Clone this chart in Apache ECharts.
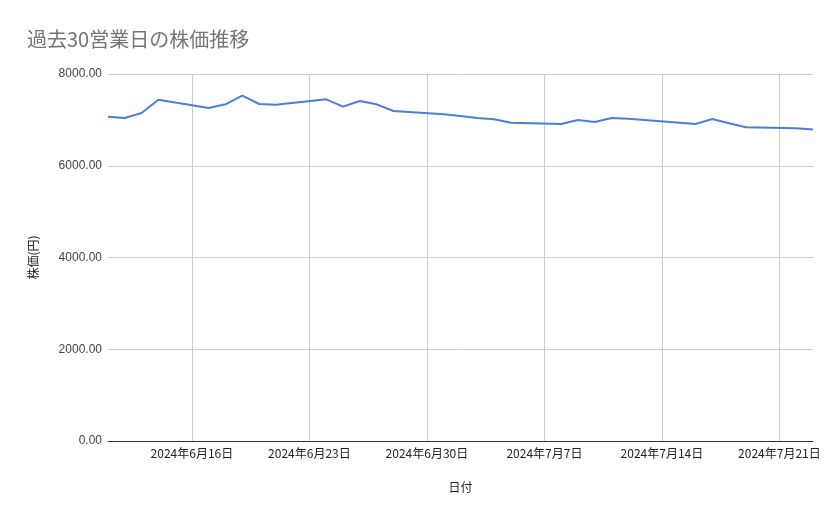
<!DOCTYPE html>
<html><head><meta charset="utf-8">
<script src="https://cdn.jsdelivr.net/npm/echarts@6/dist/echarts.min.js"></script>
<style>html,body{margin:0;padding:0;background:#fff}#c{width:839px;height:519px}</style>
</head><body><div id="c"></div>
<script>
const dates = ['2024-06-11','2024-06-12','2024-06-13','2024-06-14','2024-06-17','2024-06-18','2024-06-19','2024-06-20','2024-06-21',
  '2024-06-24','2024-06-25','2024-06-26','2024-06-27','2024-06-28','2024-07-01','2024-07-02','2024-07-03','2024-07-04','2024-07-05',
  '2024-07-08','2024-07-09','2024-07-10','2024-07-11','2024-07-12','2024-07-16','2024-07-17','2024-07-18','2024-07-19','2024-07-22','2024-07-23'];
const prices = [7069,7041,7150,7440,7259,7339,7527,7346,7330,7448,7288,7411,7339,7193,7121,7084,7041,7012,6939,
  6910,6997,6954,7041,7022,6910,7019,6925,6838,6816,6788];
const tickDates = ['2024-06-16','2024-06-23','2024-06-30','2024-07-07','2024-07-14','2024-07-21'];
const xRange = ['2024-06-11','2024-07-23'];
const yTicks = [0,2000,4000,6000,8000];

function ts(s){const p=s.split('-').map(Number);return new Date(p[0],p[1]-1,p[2]).getTime();}
const chart = echarts.init(document.getElementById('c'));
chart.setOption({
  animation:false,
  title:{text:'過去30営業日の株価推移',left:22,top:24,textStyle:{fontFamily:'Noto Sans CJK JP',fontSize:20,fontWeight:'normal',color:'#757575'}},
  grid:{left:108,right:26,top:74,bottom:78,containLabel:false},
  xAxis:{type:'value',min:ts(xRange[0]),max:ts(xRange[1]),
    name:'日付',nameLocation:'middle',nameGap:40,
    nameTextStyle:{fontFamily:'Noto Sans CJK JP',fontSize:12,color:'#222'},
    axisLine:{show:true,lineStyle:{color:'#333',width:1}},
    axisTick:{show:false,customValues:tickDates.map(ts)},
    axisLabel:{customValues:tickDates.map(ts),color:'#222',fontFamily:'Noto Sans CJK JP',fontSize:12,margin:6,
      formatter:function(v){const d=new Date(v);return d.getFullYear()+'年'+(d.getMonth()+1)+'月'+d.getDate()+'日';}},
    splitLine:{show:true,lineStyle:{color:'#cccccc',width:1}}
  },
  yAxis:{type:'value',min:yTicks[0],max:yTicks[yTicks.length-1],interval:2000,
    name:'株価(円)',nameLocation:'middle',nameGap:69,nameRotate:90,
    nameTextStyle:{fontFamily:'Noto Sans CJK JP',fontSize:12,color:'#222'},
    axisLine:{show:false},axisTick:{show:false},
    axisLabel:{color:'#444',fontFamily:'Liberation Sans',fontSize:12,margin:6,formatter:v=>v.toFixed(2)},
    splitLine:{lineStyle:{color:'#cccccc',width:1}}
  },
  series:[{type:'line',data:dates.map((d,i)=>[ts(d),prices[i]]),showSymbol:false,
    lineStyle:{color:'#4a7fd6',width:2},itemStyle:{color:'#4a7fd6'}}]
});
</script></body></html>
